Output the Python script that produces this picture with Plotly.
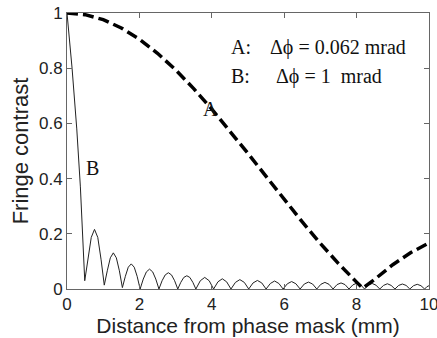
import plotly.graph_objects as go

# Curve A: delta phi = 0.062 mrad (dashed)
a_x = [0.0, 0.5, 1.0, 1.5, 2.0, 2.5, 3.0, 3.5, 4.0, 4.5, 5.0, 5.5, 6.0, 6.5,
       7.0, 7.5, 8.0, 8.17, 8.5, 9.0, 9.5, 10.0]
a_y = [1.0, 0.994, 0.976, 0.946, 0.905, 0.854, 0.794, 0.726, 0.652, 0.573,
       0.491, 0.408, 0.325, 0.243, 0.165, 0.092, 0.025, 0.003, 0.035, 0.088,
       0.132, 0.167]

# Curve B: delta phi = 1 mrad (thin solid, oscillating)
b_x = [0.0, 0.14, 0.27, 0.37,
       0.49, 0.58, 0.67, 0.76, 0.85, 0.94,
       1.03, 1.113, 1.197, 1.28, 1.363, 1.447,
       1.53, 1.612, 1.693, 1.775, 1.857, 1.938,
       2.02, 2.107, 2.193, 2.28, 2.367, 2.453,
       2.54, 2.627, 2.713, 2.80, 2.887, 2.973,
       3.06, 3.143, 3.227, 3.31, 3.393, 3.477,
       3.56, 3.683, 3.805, 3.928,
       4.05, 4.17, 4.29, 4.41,
       4.53, 4.653, 4.775, 4.898,
       5.02, 5.14, 5.26, 5.38,
       5.50, 5.618, 5.735, 5.853,
       5.97, 6.088, 6.205, 6.323,
       6.44, 6.555, 6.67, 6.785,
       6.90, 7.013, 7.125, 7.238,
       7.35, 7.46, 7.57, 7.68,
       7.79, 7.898, 8.005, 8.113,
       8.22, 8.325, 8.43, 8.535,
       8.64, 8.745, 8.85, 8.955,
       9.06, 9.163, 9.265, 9.368,
       9.47, 9.573, 9.675, 9.778,
       9.88, 9.94, 10.0]
b_y = [1.0, 0.80, 0.58, 0.37,
       0.03, 0.108, 0.187, 0.216, 0.187, 0.108,
       0.014, 0.066, 0.113, 0.131, 0.113, 0.066,
       0.005, 0.046, 0.079, 0.091, 0.079, 0.046,
       0.0, 0.036, 0.062, 0.072, 0.062, 0.036,
       0.0, 0.030, 0.051, 0.059, 0.051, 0.030,
       0.0, 0.024, 0.042, 0.048, 0.042, 0.024,
       0.0, 0.030, 0.042, 0.030,
       0.0, 0.026, 0.037, 0.026,
       0.0, 0.024, 0.034, 0.024,
       0.0, 0.022, 0.031, 0.022,
       0.0, 0.020, 0.029, 0.020,
       0.0, 0.019, 0.027, 0.019,
       0.0, 0.018, 0.025, 0.018,
       0.0, 0.017, 0.024, 0.017,
       0.0, 0.016, 0.022, 0.016,
       0.0, 0.015, 0.021, 0.015,
       0.0, 0.014, 0.020, 0.014,
       0.0, 0.013, 0.019, 0.013,
       0.0, 0.013, 0.018, 0.013,
       0.0, 0.012, 0.017, 0.012,
       0.0, 0.008, 0.012]

x_ticks = [0, 2, 4, 6, 8, 10]
x_tick_labels = ["0", "2", "4", "6", "8", "10"]
y_ticks = [0, 0.2, 0.4, 0.6, 0.8, 1.0]
y_tick_labels = ["0", "0.2", "0.4", "0.6", "0.8", "1"]

fig = go.Figure()
fig.add_trace(go.Scatter(x=b_x, y=b_y, mode="lines",
                         line=dict(color="#222222", width=1), showlegend=False))
fig.add_trace(go.Scatter(x=a_x, y=a_y, mode="lines",
                         line=dict(color="#000000", width=3.5, dash="11px,5px"),
                         showlegend=False))

sans = "Liberation Sans, Arial, sans-serif"
serif = "Liberation Serif, Times New Roman, serif"

axis_common = dict(showline=True, linecolor="#666666", linewidth=1, mirror="ticks",
                   ticks="inside", ticklen=5, tickcolor="#666666", showgrid=False,
                   zeroline=False, ticklabeloverflow="allow", automargin=False,
                   tickfont=dict(family=sans, size=17, color="#222222"))

fig.update_xaxes(range=[0, 10.0005], tickvals=x_ticks, ticktext=x_tick_labels,
                 title=dict(text="Distance from phase mask (mm)", standoff=3,
                            font=dict(family=sans, size=21, color="#222222")),
                 **axis_common)
fig.update_yaxes(range=[0, 1.00005], tickvals=y_ticks, ticktext=y_tick_labels,
                 title=dict(text="Fringe contrast", standoff=4,
                            font=dict(family=sans, size=22, color="#222222")),
                 **axis_common)

ann_font = dict(family=serif, size=20, color="#111111")
curve_labels = [("A", 3.97, 0.652), ("B", 0.70, 0.44)]
for txt, x, y in curve_labels:
    fig.add_annotation(x=x, y=y, text=txt, showarrow=False, xanchor="center",
                       yanchor="middle", font=ann_font)

legend_keys = ["A:", "B:"]
legend_texts = ["Δϕ = 0.062 mrad", "Δϕ = 1&nbsp;&nbsp;mrad"]
legend_y = [0.876, 0.770]
legend_text_x = [5.54, 5.73]
for key, txt, y, tx in zip(legend_keys, legend_texts, legend_y, legend_text_x):
    fig.add_annotation(x=4.47, y=y, text=key, showarrow=False, xanchor="left",
                       yanchor="middle", font=ann_font)
    fig.add_annotation(x=tx, y=y, text=txt, showarrow=False, xanchor="left",
                       yanchor="middle", font=ann_font)

fig.update_layout(width=437, height=338, margin=dict(l=67, r=8, t=13, b=49),
                  plot_bgcolor="white", paper_bgcolor="white")

fig.write_html("out.html")
